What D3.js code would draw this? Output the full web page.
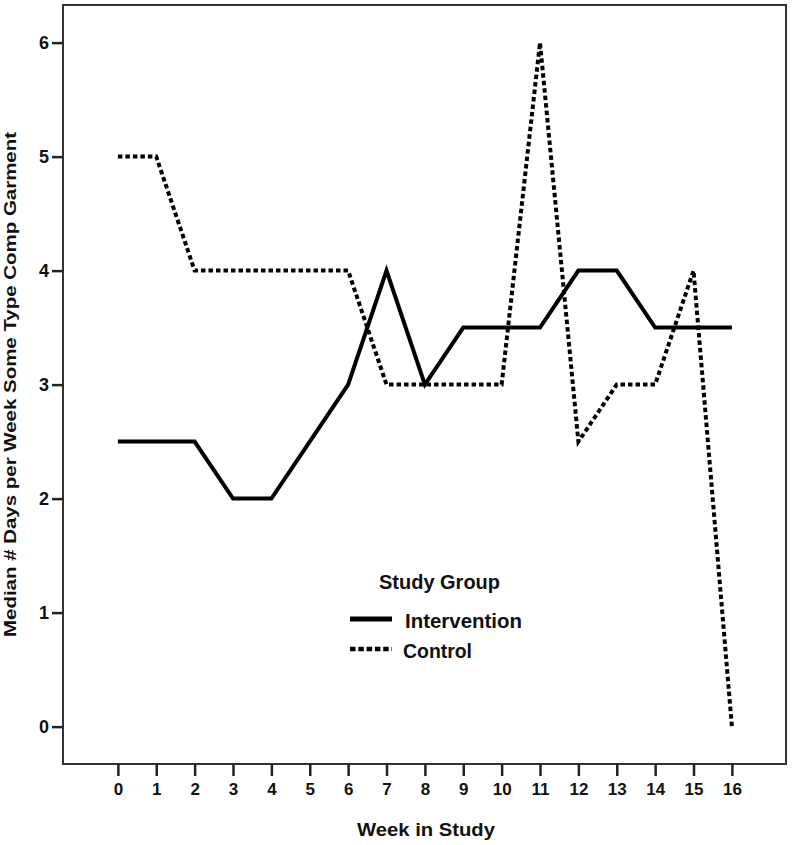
<!DOCTYPE html>
<html><head><meta charset="utf-8">
<script src="https://cdn.jsdelivr.net/npm/d3@7"></script>
<style>body{margin:0;background:#fff}svg{display:block}text{font-family:"Liberation Sans",Arial,sans-serif;font-weight:bold;fill:#111}</style>
</head><body><svg id="c" width="792" height="845"></svg>
<script>
const weeks = [0,1,2,3,4,5,6,7,8,9,10,11,12,13,14,15,16];
const intervention = [2.5,2.5,2.5,2,2,2.5,3,4,3,3.5,3.5,3.5,4,4,3.5,3.5,3.5];
const control = [5,5,4,4,4,4,4,3,3,3,3,6,2.5,3,3,4,0];
const yTicks = [0,1,2,3,4,5,6];
const seriesNames = ["Intervention","Control"];

const svg = d3.select("#c");
const L=63, R=786, T=5, B=764;
const x = d3.scaleLinear().domain([-1.43,17.41]).range([L,R]);
const y = d3.scaleLinear().domain([-0.328,6.33]).range([B,T]);

svg.append("rect").attr("x",L).attr("y",T).attr("width",R-L).attr("height",B-T)
  .attr("fill","none").attr("stroke","#333").attr("stroke-width",2);

const xa = svg.append("g").attr("transform",`translate(0,${B})`)
  .call(d3.axisBottom(x).tickValues(weeks).tickFormat(d3.format("d")).tickSize(12).tickSizeOuter(0).tickPadding(6));
xa.select(".domain").remove();
xa.selectAll("line").attr("stroke","#222").attr("stroke-width",2.5);
xa.selectAll("text").style("font-size","17px").attr("dy","0.78em");

const ya = svg.append("g").attr("transform",`translate(${L},0)`)
  .call(d3.axisLeft(y).tickValues(yTicks).tickFormat(d3.format("d")).tickSize(11).tickSizeOuter(0).tickPadding(3));
ya.select(".domain").remove();
ya.selectAll("line").attr("stroke","#222").attr("stroke-width",2.5);
ya.selectAll("text").style("font-size","18px");

const line = d3.line().x((d,i)=>x(weeks[i])).y(d=>y(d));
svg.append("path").datum(intervention).attr("d",line).attr("fill","none")
  .attr("stroke","#000").attr("stroke-width",4);
svg.append("path").datum(control).attr("d",line).attr("fill","none")
  .attr("stroke","#000").attr("stroke-width",4).attr("stroke-dasharray","4.5,3");

svg.append("text").attr("x",357).attr("y",836).attr("textLength",138).attr("lengthAdjust","spacingAndGlyphs")
  .style("font-size","19px").text("Week in Study");
svg.append("text").attr("transform",`translate(15.5,637) rotate(-90)`)
  .attr("textLength",505).attr("lengthAdjust","spacingAndGlyphs")
  .style("font-size","17px").text("Median # Days per Week Some Type Comp Garment");

const lg = svg.append("g");
lg.append("text").attr("x",379).attr("y",589).attr("textLength",121).attr("lengthAdjust","spacingAndGlyphs")
  .style("font-size","20px").text("Study Group");
const dashes = [null,"5.5,2.8"];
const lens = [117,69];
seriesNames.forEach((n,i)=>{
  const yy = 619 + i*30;
  lg.append("line").attr("x1",350).attr("x2",392).attr("y1",yy).attr("y2",yy)
    .attr("stroke","#000").attr("stroke-width",i===0?5:4.5).attr("stroke-dasharray",dashes[i]);
  lg.append("text").attr("x",i===0?405:403).attr("y",yy+9).attr("textLength",lens[i]).attr("lengthAdjust","spacingAndGlyphs")
    .style("font-size","20px").text(n);
});
</script></body></html>
